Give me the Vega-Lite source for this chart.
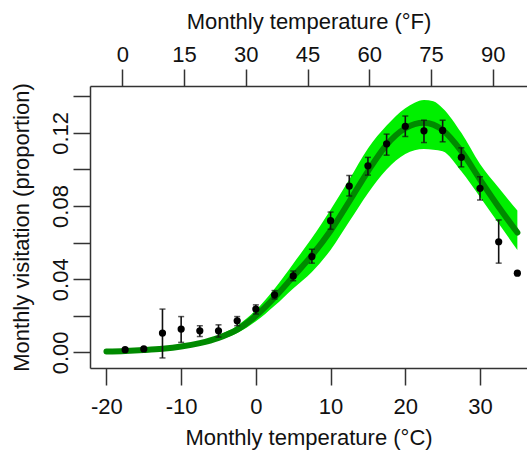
{
  "$schema": "https://vega.github.io/schema/vega-lite/v6.json",
  "width": 437,
  "height": 282,
  "autosize": {"type": "none"},
  "padding": {"left": 90, "top": 86, "right": 0, "bottom": 83},
  "background": "white",
  "config": {
    "view": {"stroke": null},
    "font": "Liberation Sans",
    "axis": {
      "grid": false,
      "tickSize": 17,
      "tickWidth": 1.5,
      "tickColor": "#333333",
      "domainColor": "#333333",
      "domainWidth": 1.5,
      "labelFontSize": 22,
      "titleFontSize": 22,
      "titleFontWeight": "normal",
      "labelColor": "#111111",
      "titleColor": "#111111",
      "labelFlush": false,
      "labelOverlap": false
    }
  },
  "datasets": {
    "curve": [
      {"c": -20, "fit": 0.0005, "lo": 0.0004, "hi": 0.0006},
      {"c": -17.5, "fit": 0.0008, "lo": 0.0007, "hi": 0.0010},
      {"c": -15, "fit": 0.0013, "lo": 0.0011, "hi": 0.0016},
      {"c": -12.5, "fit": 0.0020, "lo": 0.0017, "hi": 0.0024},
      {"c": -10, "fit": 0.0032, "lo": 0.0027, "hi": 0.0038},
      {"c": -7.5, "fit": 0.0051, "lo": 0.0043, "hi": 0.0060},
      {"c": -5, "fit": 0.0080, "lo": 0.0068, "hi": 0.0094},
      {"c": -2.5, "fit": 0.0125, "lo": 0.0106, "hi": 0.0146},
      {"c": 0, "fit": 0.0200, "lo": 0.0170, "hi": 0.0232},
      {"c": 2.5, "fit": 0.0300, "lo": 0.0255, "hi": 0.0348},
      {"c": 5, "fit": 0.0415, "lo": 0.0350, "hi": 0.0485},
      {"c": 7.5, "fit": 0.0530, "lo": 0.0440, "hi": 0.0625},
      {"c": 10, "fit": 0.0665, "lo": 0.0560, "hi": 0.0780},
      {"c": 12.5, "fit": 0.0825, "lo": 0.0715, "hi": 0.0945},
      {"c": 15, "fit": 0.0990, "lo": 0.0870, "hi": 0.1115},
      {"c": 17.5, "fit": 0.1135, "lo": 0.1000, "hi": 0.1240},
      {"c": 20, "fit": 0.1225, "lo": 0.1085, "hi": 0.1335},
      {"c": 21.25, "fit": 0.1248, "lo": 0.1105, "hi": 0.1365},
      {"c": 22.5, "fit": 0.1255, "lo": 0.1112, "hi": 0.1380},
      {"c": 23.75, "fit": 0.1245, "lo": 0.1108, "hi": 0.1372},
      {"c": 25, "fit": 0.1215, "lo": 0.1100, "hi": 0.1335},
      {"c": 27.5, "fit": 0.1100, "lo": 0.0990, "hi": 0.1200},
      {"c": 30, "fit": 0.0945, "lo": 0.0850, "hi": 0.1030},
      {"c": 32.5, "fit": 0.0795, "lo": 0.0705, "hi": 0.0900},
      {"c": 35, "fit": 0.0655, "lo": 0.0560, "hi": 0.0775}
    ],
    "obs": [
      {"c": -17.5, "y": 0.0015, "lo": null, "hi": null},
      {"c": -15, "y": 0.0019, "lo": null, "hi": null},
      {"c": -12.5, "y": 0.0106, "lo": -0.0030, "hi": 0.0237},
      {"c": -10, "y": 0.0128, "lo": 0.0055, "hi": 0.0196},
      {"c": -7.5, "y": 0.0118, "lo": 0.0087, "hi": 0.0146},
      {"c": -5, "y": 0.0118, "lo": 0.0084, "hi": 0.0151},
      {"c": -2.5, "y": 0.0173, "lo": 0.0146, "hi": 0.0196},
      {"c": 0, "y": 0.0237, "lo": 0.0210, "hi": 0.0260},
      {"c": 2.5, "y": 0.0315, "lo": 0.0292, "hi": 0.0338},
      {"c": 5, "y": 0.0418, "lo": 0.0392, "hi": 0.0445},
      {"c": 7.5, "y": 0.0524, "lo": 0.0488, "hi": 0.0564},
      {"c": 10, "y": 0.0720, "lo": 0.0673, "hi": 0.0767},
      {"c": 12.5, "y": 0.0909, "lo": 0.0855, "hi": 0.0967},
      {"c": 15, "y": 0.1020, "lo": 0.0969, "hi": 0.1066},
      {"c": 17.5, "y": 0.1140, "lo": 0.1078, "hi": 0.1193},
      {"c": 20, "y": 0.1236, "lo": 0.1180, "hi": 0.1292},
      {"c": 22.5, "y": 0.1211, "lo": 0.1147, "hi": 0.1269},
      {"c": 25, "y": 0.1213, "lo": 0.1151, "hi": 0.1269},
      {"c": 27.5, "y": 0.1066, "lo": 0.1014, "hi": 0.1118},
      {"c": 30, "y": 0.0897, "lo": 0.0833, "hi": 0.0960},
      {"c": 32.5, "y": 0.0605, "lo": 0.0488, "hi": 0.0724},
      {"c": 35, "y": 0.0433, "lo": null, "hi": null}
    ],
    "fticks": [
      {"f": 0}, {"f": 15}, {"f": 30}, {"f": 45}, {"f": 60}, {"f": 75}, {"f": 90}
    ]
  },
  "layer": [
    {
      "layer": [
        {
          "data": {"name": "curve"},
          "mark": {"type": "area", "color": "#00f000", "interpolate": "monotone"},
          "encoding": {
            "x": {
              "field": "c", "type": "quantitative",
              "scale": {"domain": [-22.2, 36.29], "nice": false, "zero": false},
              "axis": {
                "orient": "bottom",
                "values": [-20, -10, 0, 10, 20, 30],
                "labelExpr": "'' + datum.value",
                "title": "Monthly temperature (°C)",
                "labelPadding": 11,
                "titlePadding": 10
              }
            },
            "y": {
              "field": "lo", "type": "quantitative",
              "scale": {"domain": [-0.0085, 0.1456], "nice": false, "zero": false},
              "axis": {
                "values": [0, 0.02, 0.04, 0.06, 0.08, 0.1, 0.12, 0.14],
                "labelExpr": "round(datum.value * 100) % 4 == 0 ? format(datum.value, '.2f') : ''",
                "labelAngle": -90,
                "labelAlign": "center",
                "labelBaseline": "alphabetic",
                "labelPadding": 6,
                "title": "Monthly visitation (proportion)",
                "titlePadding": 16
              }
            },
            "y2": {"field": "hi"}
          }
        },
        {
          "data": {"name": "curve"},
          "mark": {"type": "line", "color": "#008a00", "strokeWidth": 6, "strokeCap": "round", "interpolate": "monotone"},
          "encoding": {
            "x": {"field": "c", "type": "quantitative"},
            "y": {"field": "fit", "type": "quantitative"}
          }
        },
        {
          "data": {"name": "obs"},
          "transform": [{"filter": "isValid(datum.lo)"}],
          "mark": {"type": "rule", "color": "#111111", "strokeWidth": 1.6},
          "encoding": {
            "x": {"field": "c", "type": "quantitative"},
            "y": {"field": "lo", "type": "quantitative"},
            "y2": {"field": "hi"}
          }
        },
        {
          "data": {"name": "obs"},
          "transform": [{"filter": "isValid(datum.lo)"}],
          "mark": {"type": "tick", "orient": "horizontal", "color": "#111111", "size": 6, "thickness": 1.5},
          "encoding": {
            "x": {"field": "c", "type": "quantitative"},
            "y": {"field": "lo", "type": "quantitative"}
          }
        },
        {
          "data": {"name": "obs"},
          "transform": [{"filter": "isValid(datum.hi)"}],
          "mark": {"type": "tick", "orient": "horizontal", "color": "#111111", "size": 6, "thickness": 1.5},
          "encoding": {
            "x": {"field": "c", "type": "quantitative"},
            "y": {"field": "hi", "type": "quantitative"}
          }
        },
        {
          "data": {"name": "obs"},
          "mark": {"type": "circle", "color": "#000000", "opacity": 1, "size": 52},
          "encoding": {
            "x": {"field": "c", "type": "quantitative"},
            "y": {"field": "y", "type": "quantitative"}
          }
        }
      ]
    },
    {
      "data": {"name": "fticks"},
      "mark": {"type": "point", "opacity": 0},
      "encoding": {
        "x": {
          "field": "f", "type": "quantitative",
          "scale": {"domain": [-7.85, 98.33], "nice": false, "zero": false},
          "axis": {
            "orient": "top",
            "values": [0, 15, 30, 45, 60, 75, 90],
            "title": "Monthly temperature (°F)",
            "labelPadding": 3,
            "titlePadding": 10
          }
        }
      }
    }
  ],
  "resolve": {"scale": {"x": "independent"}}
}
